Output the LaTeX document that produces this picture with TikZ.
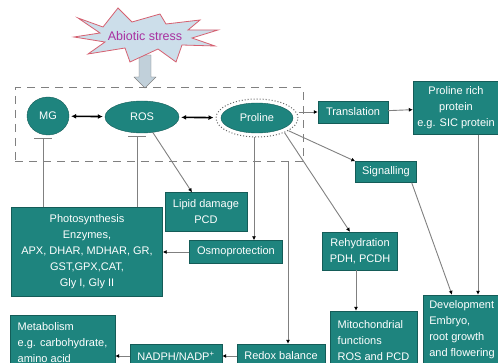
\documentclass[tikz,border=0pt]{standalone}
\usepackage{fontspec}
\setmainfont{Liberation Sans}
\usepackage{tikz}
\usetikzlibrary{arrows.meta,positioning,shapes,backgrounds,fit}
\definecolor{tealbox}{RGB}{30,132,126}
\definecolor{tealedge}{RGB}{20,92,88}
\definecolor{starblue}{RGB}{204,222,234}
\definecolor{starred}{RGB}{214,96,112}
\definecolor{stressmag}{RGB}{168,48,160}
\definecolor{linegrey}{RGB}{128,128,128}

\begin{document}
\begin{tikzpicture}[x=1pt,y=-1pt,
    box/.style={rectangle,draw=tealedge,fill=tealbox,text=white,align=center,inner sep=2pt,font=\fontsize{11}{16}\selectfont},
    oval/.style={ellipse,draw=tealedge,fill=tealbox,text=white,inner sep=0pt,font=\fontsize{11}{16}\selectfont},
    conn/.style={draw=linegrey,line width=0.9pt,-{Latex[color=black,length=4pt,width=4pt]}},
    both/.style={black,line width=1.6pt,shorten <=2pt,shorten >=2pt,{Latex[length=5pt,width=5pt]}-{Latex[length=5pt,width=5pt]}},
    inhib/.style={draw=linegrey,line width=0.9pt,shorten >=3pt,-{Bar[width=18pt]}}]
    \useasboundingbox (0,0) rectangle (498,363);

    % stress input
    \draw[linegrey,fill=starblue!85!gray] (139,55) -- (151,55) -- (151,77) -- (156,77) -- (145,88) -- (134,77) -- (139,77) -- cycle;
    \draw[starred,fill=starblue,line width=0.8pt] (78,18) -- (103,27) -- (118,8) -- (132,22) -- (160,14) -- (166,24) -- (200,20)
        -- (188,30) -- (218,30) -- (192,38) -- (215,46) -- (182,45) -- (176,62) -- (158,49) -- (130,62) -- (125,48)
        -- (88,54) -- (105,42) -- (74,37) -- (100,33) -- cycle;
    \node[text=stressmag,font=\fontsize{12.5}{14}\selectfont] (stress) at (145,36) {Abiotic stress};
    \node[draw=linegrey,dash pattern=on 8pt off 6pt,line width=1pt,minimum width=288pt,minimum height=74pt] (stressbox) at (159,125) {};

    \node[oval,minimum width=42pt,minimum height=38pt] (mg) at (48,116) {MG};
    \node[oval,minimum width=74pt,minimum height=32pt] (ros) at (142,117) {ROS};
    \node[oval,minimum width=72pt,minimum height=30pt] (pro) at (257,118) {Proline};
    \node[ellipse,draw=black!60,dotted,line width=1pt,minimum width=82pt,minimum height=38pt] (proring) at (pro) {};

    \node[box,minimum width=70pt,minimum height=22pt] (trans) at (353,112) {Translation};
    \node[box,minimum width=86pt,minimum height=53pt] (prp) at (456,108) {Proline rich\\protein\\e.g. SIC protein};
    \node[box,minimum width=61pt,minimum height=21pt] (sig) at (386,172) {Signalling};
    \node[box,minimum width=82pt,minimum height=39pt] (lipid) at (206,212) {Lipid damage\\PCD};
    \node[box,minimum width=93pt,minimum height=23pt] (osmo) at (236,252) {Osmoprotection};
    \node[box,minimum width=151pt,minimum height=89pt] (photo) at (87,252) {Photosynthesis\\Enzymes,\\APX, DHAR, MDHAR, GR,\\GST,GPX,CAT,\\Gly I, Gly II};
    \node[box,minimum width=75pt,minimum height=38pt] (rehyd) at (360,251) {Rehydration\\PDH, PCDH};
    \node[box,align=left,minimum width=87pt,minimum height=60pt] (mito) at (373.5,341) {Mitochondrial\\functions\\ROS and PCD};
    \node[box,align=left,minimum width=78pt,minimum height=70pt] (dev) at (462,330) {Development\\Embryo,\\root growth\\and flowering};
    \node[box,align=left,minimum width=105pt,minimum height=56pt] (meta) at (62.5,343) {Metabolism\\e.g. carbohydrate,\\amino acid};
    \node[box,minimum width=92pt,minimum height=24pt] (nadph) at (176,356) {NADPH/NADP\textsuperscript{+}};
    \node[box,minimum width=88pt,minimum height=24pt] (redox) at (281,356) {Redox balance};

    % links
    \draw[both] (mg) -- (ros);
    \draw[both] (ros) -- (proring);
    \draw[conn] (proring.east |- trans.west) -- (trans.west);
    \draw[conn] (trans) -- (prp);
    \draw[conn] (proring.-22) -- (sig.north west);
    \draw[conn] (proring.-28) -- ([xshift=-10pt]rehyd.north);
    \draw[conn] ([xshift=-3pt]proring.south) -- ([xshift=-3pt]proring.south |- osmo.north);
    \draw[conn] (osmo) -- (photo);
    \draw[conn] (ros.-55) -- ([xshift=-14pt]lipid.north);
    \draw[inhib] ([xshift=-5pt]mg.south |- photo.north) -- ([xshift=-5pt]mg.south);
    \draw[inhib] ([xshift=-5pt]ros.south |- photo.north) -- ([xshift=-5pt]ros.south);
    \draw[conn] ([xshift=7pt]redox.north |- stressbox.south) -- ([xshift=7pt]redox.north);
    \draw[conn] ([xshift=-4pt]rehyd.south) -- ([xshift=-4pt]rehyd.south |- mito.north);
    \draw[conn] ([xshift=-5pt]sig.south east) -- ([xshift=-10pt]dev.north);
    \draw[conn] ([xshift=22pt]prp.south) -- ([xshift=22pt]prp.south |- dev.north);
    \draw[conn] (redox) -- (nadph);
    \draw[conn] (nadph.west) -- (nadph.west -| meta.east);
\end{tikzpicture}
\end{document}
